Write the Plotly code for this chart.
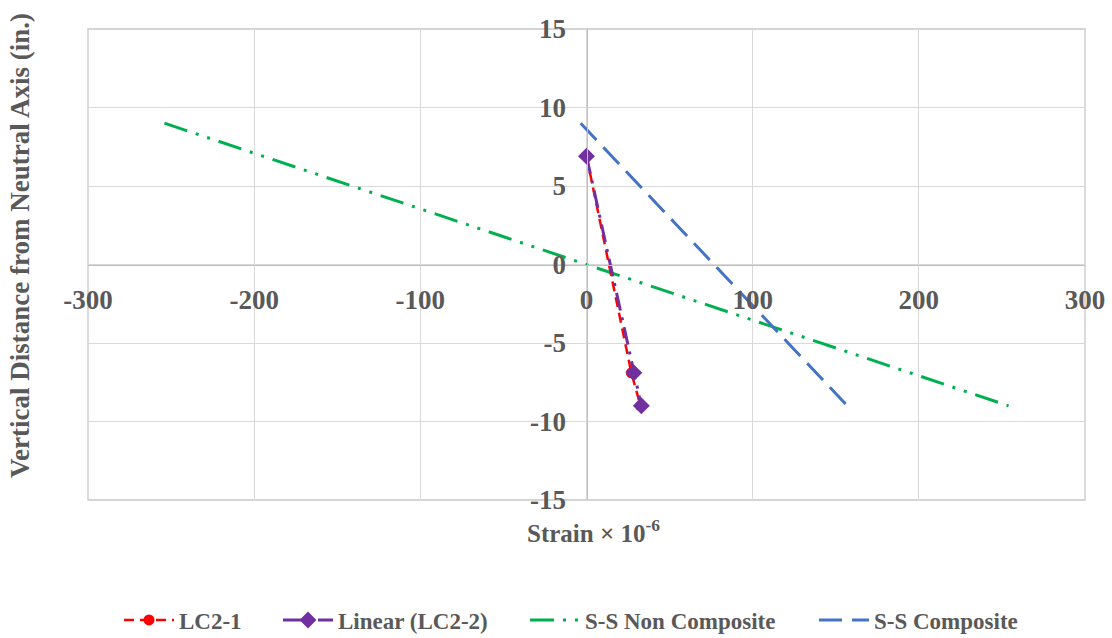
import plotly.graph_objects as go

# Measured strain profiles (strain x 1e-6 vs. depth from neutral axis, in.)
lc21_strain = [0, 27, 32.5]
lc21_depth = [6.9, -6.9, -9]

lc22_strain = [0, 28.5, 33]
lc22_depth = [6.9, -6.9, -9]

# Theoretical simply-supported profiles
noncomp_strain = [-254, 0, 254]
noncomp_depth = [9, 0, -9]

comp_strain = [-3.5, 157]
comp_depth = [9, -9]

x_ticks = [-300, -200, -100, 0, 100, 200, 300]
y_ticks = [-15, -10, -5, 0, 5, 10, 15]

FONT = "Liberation Serif"
GREY = "#595959"

fig = go.Figure()

fig.add_trace(go.Scatter(
    x=noncomp_strain, y=noncomp_depth, mode="lines", name="<b>S-S Non Composite</b>",
    line=dict(color="#00b050", width=3, dash="24px,9px,3px,9px,3px,9px"),
    legend="legend3",
))
fig.add_trace(go.Scatter(
    x=comp_strain, y=comp_depth, mode="lines", name="<b>S-S Composite</b>",
    line=dict(color="#4472c4", width=3, dash="23px,10px"),
    legend="legend4",
))
fig.add_trace(go.Scatter(
    x=lc21_strain, y=lc21_depth, mode="lines+markers", name="<b>LC2-1</b>",
    line=dict(color="#ff0000", width=2.5, dash="10px,6px"),
    marker=dict(symbol="circle", size=11, color="#ff0000"),
    legend="legend",
))
fig.add_trace(go.Scatter(
    x=lc22_strain, y=lc22_depth, mode="lines+markers", name="<b>Linear (LC2-2)</b>",
    line=dict(color="#7030a0", width=3, dash="18px,7px,3px,7px"),
    marker=dict(symbol="diamond", size=13, color="#7030a0"),
    legend="legend2",
))

L, R, T, B = 88, 27, 29, 138
W, H = 1112, 638
PW, PH = W - L - R, H - T - B


def px_x(px):
    return (px - L) / PW


def px_y(py):
    return (H - B - py) / PH


legend_common = dict(
    orientation="h", xanchor="left", yanchor="middle", y=px_y(620),
    font=dict(family=FONT, size=23, color=GREY),
    itemwidth=50, bgcolor="rgba(0,0,0,0)",
)
legend_starts = [127, 286, 533, 822]

fig.update_layout(
    width=W, height=H,
    margin=dict(l=L, r=R, t=T, b=B, autoexpand=False),
    paper_bgcolor="white", plot_bgcolor="white",
    font=dict(family=FONT, color=GREY),
    showlegend=True,
    legend=dict(legend_common, x=px_x(legend_starts[0] - 8)),
    legend2=dict(legend_common, x=px_x(legend_starts[1] - 8)),
    legend3=dict(legend_common, x=px_x(legend_starts[2] - 8)),
    legend4=dict(legend_common, x=px_x(legend_starts[3] - 8)),
    xaxis=dict(
        range=[-300, 300], tickvals=x_ticks, ticktext=[f"<b>{v}</b>" for v in x_ticks],
        showgrid=True, gridcolor="#d9d9d9", gridwidth=1,
        zeroline=False, showline=True, linecolor="#bfbfbf", linewidth=1.3,
        anchor="free", position=0.5, ticks="", ticklabelstandoff=11, automargin=False,
        tickfont=dict(family=FONT, size=27, color=GREY),
    ),
    yaxis=dict(
        range=[-15, 15], tickvals=y_ticks, ticktext=[f"<b>{v}</b>" for v in y_ticks],
        showgrid=True, gridcolor="#d9d9d9", gridwidth=1,
        zeroline=False, showline=True, linecolor="#bfbfbf", linewidth=1.3,
        anchor="free", position=0.5, ticks="", ticklabelstandoff=15, automargin=False,
        tickfont=dict(family=FONT, size=27, color=GREY),
    ),
    shapes=[dict(type="rect", xref="paper", yref="paper", x0=0, x1=1, y0=0, y1=1,
                 line=dict(color="#c8c8c8", width=1.3), layer="below")],
    annotations=[
        dict(text="<b>Vertical Distance from Neutral Axis (in.)</b>", xref="paper", yref="paper",
             x=px_x(20), y=px_y(246), xanchor="center", yanchor="middle", textangle=-90,
             showarrow=False, font=dict(family=FONT, size=27, color=GREY)),
        dict(text="<b>Strain × 10<sup>-6</sup></b>", xref="paper", yref="paper",
             x=px_x(593), y=px_y(531), xanchor="center", yanchor="middle",
             showarrow=False, font=dict(family=FONT, size=25, color=GREY)),
    ],
)

fig.write_html("out.html")
